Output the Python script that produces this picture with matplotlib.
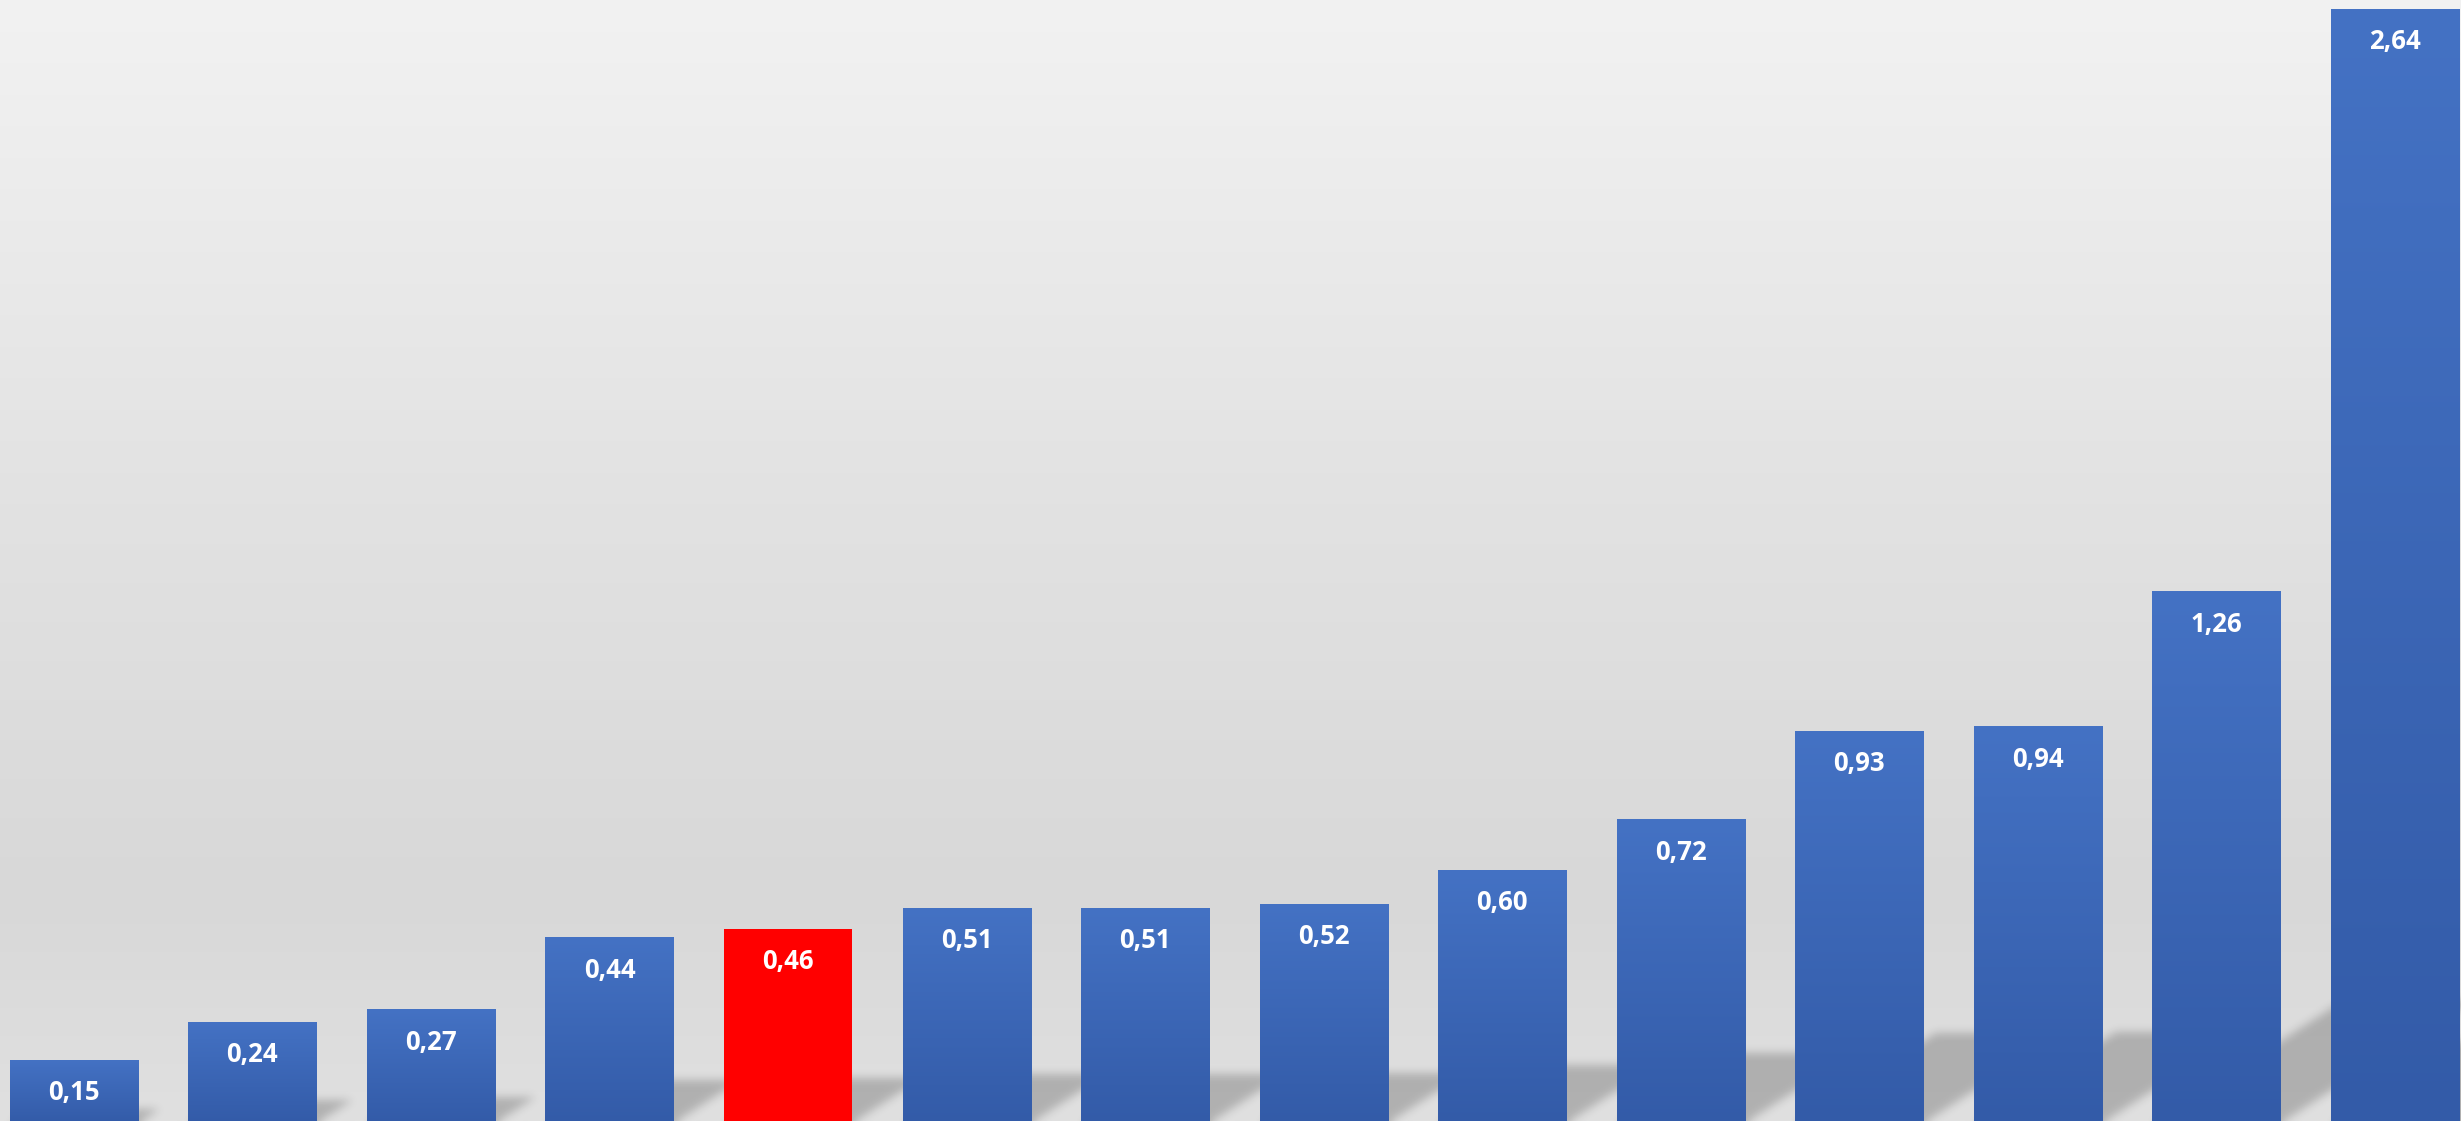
import numpy as np
import matplotlib
matplotlib.use("Agg")
import matplotlib.pyplot as plt
from matplotlib.colors import to_rgb

# ---------------- data ----------------
categories = [f"C{i+1}" for i in range(14)]
values = [0.15, 0.24, 0.27, 0.44, 0.46, 0.51, 0.51, 0.52, 0.60, 0.72, 0.93, 0.94, 1.26, 2.64]
labels = ["0,15", "0,24", "0,27", "0,44", "0,46", "0,51", "0,51", "0,52",
          "0,60", "0,72", "0,93", "0,94", "1,26", "2,64"]
highlight = [False, False, False, False, True, False, False, False,
             False, False, False, False, False, False]

# ---------------- style ----------------
W, H, DPI = 2461, 1121, 100
XLIM = (-0.4133, 13.37)
YLIM = (0.005, 2.661)
BAR_W = 0.717
BLUE_TOP = np.array(to_rgb("#4472C4"))
BLUE_BOT = np.array(to_rgb("#335BA8"))
RED = "#FF0000"

plt.rcParams['font.family'] = ['Open Sans', 'DejaVu Sans']

fig = plt.figure(figsize=(W / DPI, H / DPI), dpi=DPI)
ax = fig.add_axes([0, 0, 1, 1])
ax.set_axis_off()
ax.set_xlim(*XLIM)
ax.set_ylim(*YLIM)

# ---------------- background gradient ----------------
stops_f = [0.0, 0.45, 0.80, 1.0]
stops_g = [242, 226, 216, 224]
yy = np.linspace(0, 1, H)
g = np.interp(yy, stops_f, stops_g) / 255.0
bg = np.repeat(g[:, None], 4, axis=1)[:, None, :3].repeat(2, axis=1)
ax.imshow(bg, extent=(XLIM[0], XLIM[1], YLIM[0], YLIM[1]), aspect='auto',
          origin='upper', zorder=0, interpolation='bilinear')

# ---------------- perspective shadows ----------------
x_pos = np.arange(len(values))
ppx = W / (XLIM[1] - XLIM[0])   # pixels per data unit (x)
ppy = H / (YLIM[1] - YLIM[0])   # pixels per data unit (y)
skew = 1.56 * ppy / ppx          # horizontal data shift per vertical data unit
shadow_scale = 0.23

px = XLIM[0] + (np.arange(W) + 0.5) / W * (XLIM[1] - XLIM[0])
py = YLIM[1] - (np.arange(H) + 0.5) / H * (YLIM[1] - YLIM[0])
X, Y = np.meshgrid(px, py)
mask = np.zeros((H, W))
for xi, v in zip(x_pos, values):
    hs = v * shadow_scale
    L = xi - BAR_W / 2
    R = xi + BAR_W / 2
    m = (Y >= -0.05) & (Y <= hs) & (X >= L + skew * Y) & (X <= R + skew * Y)
    mask[m] = 1.0

sigma = 4.5
rad = int(3 * sigma)
k = np.exp(-0.5 * (np.arange(-rad, rad + 1) / sigma) ** 2)
k /= k.sum()
pad = np.pad(mask, rad, mode='edge')
tmp = np.zeros_like(pad)
for i, w in enumerate(k):
    tmp += w * np.roll(pad, i - rad, axis=1)
out = np.zeros_like(pad)
for i, w in enumerate(k):
    out += w * np.roll(tmp, i - rad, axis=0)
blur = out[rad:-rad, rad:-rad]
sh = np.zeros((H, W, 4))
sh[..., 3] = 0.21 * blur
ax.imshow(sh, extent=(XLIM[0], XLIM[1], YLIM[0], YLIM[1]), aspect='auto',
          origin='upper', zorder=1, interpolation='bilinear')

# ---------------- bars ----------------
bars = ax.bar(x_pos, values, width=BAR_W, zorder=2, linewidth=0,
              color=[RED if h else "none" for h in highlight])
t = np.linspace(0, 1, 256)[:, None]
grad = BLUE_TOP[None, :] * (1 - t) + BLUE_BOT[None, :] * t
grad = grad[:, None, :].repeat(2, axis=1)
for b, h in zip(bars, highlight):
    if h:
        continue
    l, bt = b.get_x(), b.get_y()
    im = ax.imshow(grad, extent=(l, l + b.get_width(), bt, bt + b.get_height()),
                   aspect='auto', origin='upper', zorder=2, interpolation='bilinear')
    im.set_clip_path(b)

# ---------------- labels ----------------
for xi, v, lab in zip(x_pos, values, labels):
    ax.annotate(lab, xy=(xi, v), xytext=(0, -33), textcoords='offset pixels',
                ha='center', va='center', color='white', fontsize=18.5,
                fontweight='bold', zorder=4)

ax.set_xlim(*XLIM)
ax.set_ylim(*YLIM)
fig.savefig("out.png", dpi=DPI)
